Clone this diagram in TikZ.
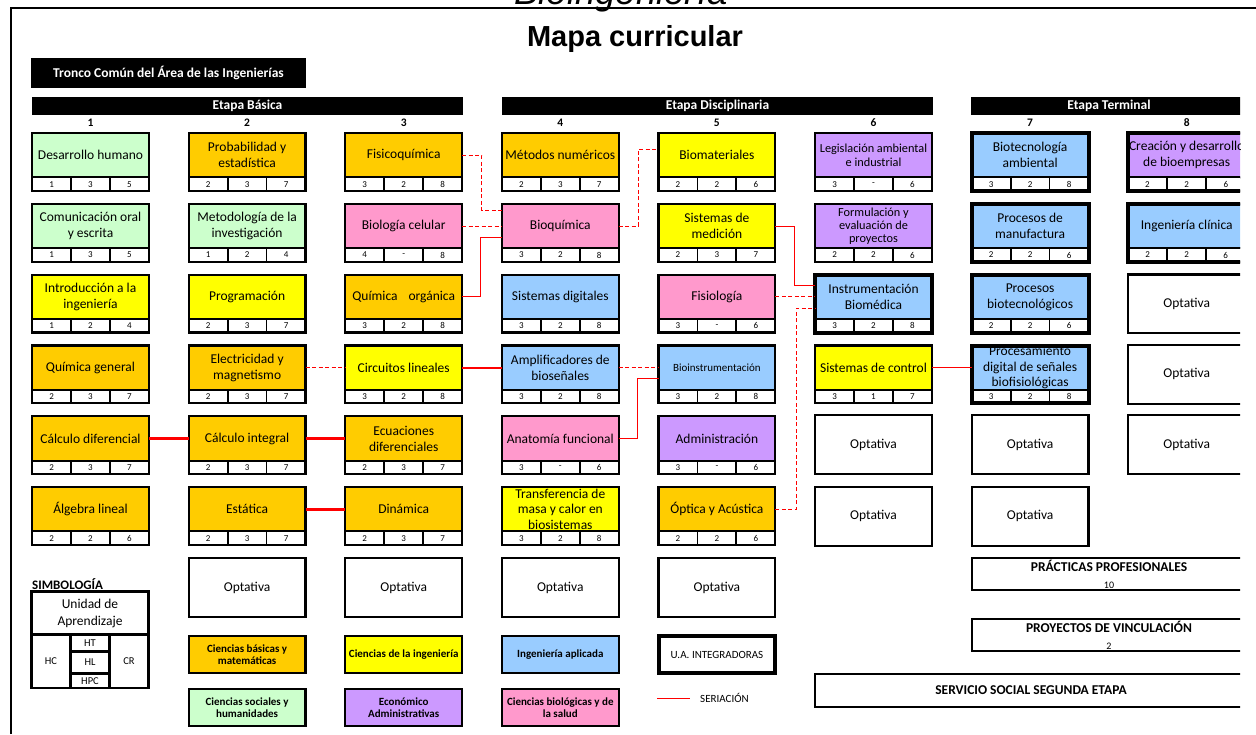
\documentclass[tikz,border=0pt]{standalone}
\usepackage{fontspec}
\setmainfont{Carlito}
\newfontfamily\arialfont{Liberation Sans}

\definecolor{verde}{HTML}{CCFFCC}
\definecolor{naranja}{HTML}{FFCC00}
\definecolor{amarillo}{HTML}{FFFF00}
\definecolor{rosa}{HTML}{FF99CC}
\definecolor{azul}{HTML}{99CCFF}
\definecolor{morado}{HTML}{CC99FF}

\tikzset{
  ua/.style={draw, line width=2.2pt, outer sep=0pt, minimum width=116.8pt,
    minimum height=44.4pt, inner xsep=1pt, inner ysep=0pt, align=center,
    font=\fontsize{13.5}{16}\selectfont},
  hr/.style={draw, fill=white, line width=1.8pt, outer sep=0pt, inner sep=0pt,
    minimum width=38.93pt, minimum height=13.4pt, font=\fontsize{9}{10}\selectfont},
  texto/.style={},
  marco/.style={line width=2.2pt},
  integ/.style={marco/.style={line width=4pt}},
  fuente/.style 2 args={texto/.style={font=\fontsize{#1}{#2}\selectfont}},
  opt/.style={draw, line width=2.2pt, outer sep=0pt, minimum width=116.8pt,
    minimum height=58.8pt, font=\fontsize{13.5}{16}\selectfont},
  barra/.style={fill=black, text=white, inner sep=0pt, minimum height=18pt,
    font=\bfseries\fontsize{13.5}{16}\selectfont},
  semestre/.style={inner sep=0pt, font=\bfseries\fontsize{11.5}{13}\selectfont},
  leyenda/.style={draw, line width=2.2pt, outer sep=0pt, minimum width=116.8pt,
    minimum height=36.8pt, inner xsep=1pt, inner ysep=0pt, align=center,
    font=\bfseries\fontsize{11}{12.5}\selectfont},
  cuadro/.style={draw, line width=2.2pt, outer sep=0pt, inner sep=0pt,
    align=center, font=\fontsize{13.5}{17}\selectfont},
  chico/.style={cuadro, font=\fontsize{10.5}{12}\selectfont},
  ser/.style={red, line width=1pt},
  serg/.style={red, line width=2.4pt},
  serd/.style={red, line width=1pt, dash pattern=on 4pt off 2.5pt}
}

% unidad de aprendizaje: [opciones] nombre, x, y, color, texto, HC, HL, CR
\newcommand{\materia}[9][]{%
  \begin{scope}[#1]
  \node[ua, texto, fill=#5] (#2) at (#3,#4) {#6};
  \node[hr, anchor=north west] (#2-1) at (#2.south west) {#7};
  \node[hr, anchor=north] (#2-2) at (#2.south) {#8};
  \node[hr, anchor=north east] (#2-3) at (#2.south east) {#9};
  \draw[marco] (#2.north west) rectangle (#2-3.south east);
  \end{scope}
}
\newcommand{\optativa}[3]{\node[opt] (#1) at (#2,#3) {Optativa};}

\begin{document}
\begin{tikzpicture}[x=1pt, y=-1pt]
  \useasboundingbox (0,0) rectangle (1256,734);
  \node[anchor=base, inner sep=0pt, font=\arialfont\itshape\fontsize{36.5}{40}\selectfont] (carrera) at (621,4) {Bioingeniería};
  \draw[line width=2pt] (11,734) -- (11,8.3) -- (1256,8.3);
  \node[anchor=base, inner sep=0pt, font=\arialfont\bfseries\fontsize{29}{32}\selectfont] (titulo) at (635,46.5) {Mapa curricular};

  \begin{scope}
  \clip (0,0) rectangle (1240,734);
  % encabezados
  \node[barra, minimum width=275pt, minimum height=30pt] (tronco) at (168.5,73) {Tronco Común del Área de las Ingenierías};
  \node[barra, minimum width=431pt] (basica) at (247.5,106) {Etapa Básica};
  \node[barra, minimum width=431pt] (disciplinaria) at (717.5,106) {Etapa Disciplinaria};
  \node[barra, minimum width=276pt] (terminal) at (1109,106) {Etapa Terminal};
  \node[semestre] (sem1) at (90.5,123) {1}; \node[semestre] (sem2) at (247.1,123) {2};
  \node[semestre] (sem3) at (403.7,123) {3}; \node[semestre] (sem4) at (560.3,123) {4};
  \node[semestre] (sem5) at (716.9,123) {5}; \node[semestre] (sem6) at (873.5,123) {6};
  \node[semestre] (sem7) at (1030.1,123) {7}; \node[semestre] (sem8) at (1186.7,123) {8};

  % semestre 1
  \materia{deshum}{90.5}{155.3}{verde}{Desarrollo humano}{1}{3}{5}
  \materia{comunic}{90.5}{226.1}{verde}{Comunicación oral\\y escrita}{1}{3}{5}
  \materia{intro}{90.5}{296.9}{amarillo}{Introducción a la\\ingeniería}{1}{2}{4}
  \materia{quimgen}{90.5}{367.7}{naranja}{Química general}{2}{3}{7}
  \materia{calcdif}{90.5}{438.5}{naranja}{Cálculo diferencial}{2}{3}{7}
  \materia{algebra}{90.5}{509.3}{naranja}{Álgebra lineal}{2}{2}{6}
  % semestre 2
  \materia{probab}{247.1}{155.3}{naranja}{Probabilidad y\\estadística}{2}{3}{7}
  \materia{metodo}{247.1}{226.1}{verde}{Metodología de la\\investigación}{1}{2}{4}
  \materia{program}{247.1}{296.9}{amarillo}{Programación}{2}{3}{7}
  \materia{electric}{247.1}{367.7}{naranja}{Electricidad y\\magnetismo}{2}{3}{7}
  \materia{calcint}{247.1}{438.5}{naranja}{Cálculo integral}{2}{3}{7}
  \materia{estatica}{247.1}{509.3}{naranja}{Estática}{2}{3}{7}
  \optativa{opt2}{247.1}{587.5}
  % semestre 3
  \materia{fisicoq}{403.7}{155.3}{naranja}{Fisicoquímica}{3}{2}{8}
  \materia{biocel}{403.7}{226.1}{rosa}{Biología celular}{4}{-}{8}
  \materia{quimorg}{403.7}{296.9}{naranja}{Química\hspace{11pt}orgánica}{3}{2}{8}
  \materia{circuit}{403.7}{367.7}{amarillo}{Circuitos lineales}{3}{2}{8}
  \materia{ecdif}{403.7}{438.5}{naranja}{Ecuaciones\\diferenciales}{2}{3}{7}
  \materia{dinamica}{403.7}{509.3}{naranja}{Dinámica}{2}{3}{7}
  \optativa{opt3}{403.7}{587.5}
  % semestre 4
  \materia{metnum}{560.3}{155.3}{naranja}{Métodos numéricos}{2}{3}{7}
  \materia{bioquim}{560.3}{226.1}{rosa}{Bioquímica}{3}{2}{8}
  \materia{sisdig}{560.3}{296.9}{azul}{Sistemas digitales}{3}{2}{8}
  \materia{amplif}{560.3}{367.7}{azul}{Amplificadores de\\bioseñales}{3}{2}{8}
  \materia{anatom}{560.3}{438.5}{rosa}{Anatomía funcional}{3}{-}{6}
  \materia[fuente={13.5}{15.3}]{transf}{560.3}{509.3}{amarillo}{Transferencia de\\masa y calor en\\biosistemas}{3}{2}{8}
  \optativa{opt4}{560.3}{587.5}
  % semestre 5
  \materia{biomat}{716.9}{155.3}{amarillo}{Biomateriales}{2}{2}{6}
  \materia{sismed}{716.9}{226.1}{amarillo}{Sistemas de\\medición}{2}{3}{7}
  \materia{fisiol}{716.9}{296.9}{rosa}{Fisiología}{3}{-}{6}
  \materia[fuente={11}{13}]{bioinst}{716.9}{367.7}{azul}{Bioinstrumentación}{3}{2}{8}
  \materia{admin}{716.9}{438.5}{morado}{Administración}{3}{-}{6}
  \materia{optica}{716.9}{509.3}{naranja}{Óptica y Acústica}{2}{2}{6}
  \optativa{opt5}{716.9}{587.5}
  % semestre 6
  \materia[fuente={12.3}{14}]{legis}{873.5}{155.3}{morado}{Legislación ambiental\\e industrial}{3}{-}{6}
  \materia[fuente={12.3}{13.2}]{formul}{873.5}{226.1}{morado}{Formulación y\\evaluación de\\proyectos}{2}{2}{6}
  \materia[integ]{instrum}{873.5}{296.9}{azul}{Instrumentación\\Biomédica}{3}{2}{8}
  \materia{siscon}{873.5}{367.7}{amarillo}{Sistemas de control}{3}{1}{7}
  \optativa{opt6a}{873.5}{444.6}
  \optativa{opt6b}{873.5}{516.3}
  % semestre 7
  \materia[integ]{biotec}{1030.1}{155.3}{azul}{Biotecnología\\ambiental}{3}{2}{8}
  \materia[integ]{procman}{1030.1}{226.1}{azul}{Procesos de\\manufactura}{2}{2}{6}
  \materia[integ]{procbio}{1030.1}{296.9}{azul}{Procesos\\biotecnológicos}{2}{2}{6}
  \materia[integ, fuente={13.5}{15.3}]{procdig}{1030.1}{367.7}{azul}{Procesamiento\\digital de señales\\biofisiológicas}{3}{2}{8}
  \optativa{opt7a}{1030.1}{444.6}
  \optativa{opt7b}{1030.1}{516.3}
  % semestre 8
  \materia[integ]{empresa}{1186.7}{155.3}{morado}{Creación y desarrollo\\de bioempresas}{2}{2}{6}
  \materia[integ]{clinica}{1186.7}{226.1}{azul}{Ingeniería clínica}{2}{2}{6}
  \optativa{opt8a}{1186.7}{303.8}
  \optativa{opt8b}{1186.7}{374.2}
  \optativa{opt8c}{1186.7}{444.6}

  % seriacion
  \draw[serd] (fisicoq.east) -- ++(19.5,0) |- (bioquim.west |- 0,210);
  \draw[serd] (biocel.east) -- (bioquim.west);
  \draw[ser] (quimorg.east) -- ++(18.5,0) |- (bioquim.west |- 0,237);
  \draw[serd] (bioquim.east) -- ++(19.5,0) |- (biomat.west |- 0,149);
  \draw[serd] (electric.east) -- (circuit.west);
  \draw[serg] (circuit.east) -- (amplif.west);
  \draw[serd] (amplif.east) -- (bioinst.west);
  \draw[ser] (anatom.east) -- ++(18.5,0) |- (bioinst.west |- 0,378);
  \draw[serg] (calcdif.east) -- (calcint.west);
  \draw[serg] (calcint.east) -- (ecdif.west);
  \draw[serg] (estatica.east) -- (dinamica.west);
  \draw[ser] (sismed.east) -- ++(18.7,0) |- (instrum.west |- 0,285);
  \draw[serd] (fisiol.east) -- (instrum.west);
  \draw[serd] (optica.east) -- ++(20.7,0) |- (instrum.west |- 0,308);
  \draw[ser] (siscon.east) -- (procdig.west);

  % simbologia
  \node[anchor=west, inner sep=0pt, font=\bfseries\fontsize{13}{15}\selectfont] (simbologia) at (32,584) {SIMBOLOGÍA};
  \node[cuadro, minimum width=117pt, minimum height=43pt] (unidad) at (90,613) {Unidad de\\Aprendizaje};
  \node[chico, anchor=north west, minimum width=39pt, minimum height=53.5pt] (hc) at (unidad.south west) {HC};
  \node[chico, anchor=north, minimum width=39pt, minimum height=17pt] (ht) at (unidad.south) {HT};
  \node[chico, anchor=north, minimum width=39pt, minimum height=22pt] (hl) at (ht.south) {HL};
  \node[chico, anchor=north, minimum width=39pt, minimum height=14.5pt] (hpc) at (hl.south) {HPC};
  \node[chico, anchor=north east, minimum width=39pt, minimum height=53.5pt] (cr) at (unidad.south east) {CR};

  \node[leyenda, fill=naranja] (cbasicas) at (247.1,654.5) {Ciencias básicas y\\matemáticas};
  \node[leyenda, fill=verde] (csociales) at (247.1,707.5) {Ciencias sociales y\\humanidades};
  \node[leyenda, fill=amarillo] (cingen) at (403.7,654.5) {Ciencias de la ingeniería};
  \node[leyenda, fill=morado] (ecoadmin) at (403.7,707.5) {Económico\\Administrativas};
  \node[leyenda, fill=azul] (ingapl) at (560.3,654.5) {Ingeniería aplicada};
  \node[leyenda, fill=rosa] (cbiol) at (560.3,707.5) {Ciencias biológicas y de\\la salud};
  \node[leyenda, line width=4pt, font=\fontsize{11}{13}\selectfont] (integradoras) at (716.9,654.5) {U.A. INTEGRADORAS};
  \coordinate (ser1) at (657,698); \coordinate (ser2) at (690,698);
  \draw[ser] (ser1) -- (ser2);
  \node[anchor=west, inner sep=0pt, font=\fontsize{11}{13}\selectfont] (seriacion) at (700,698) {SERIACIÓN};

  % practicas, vinculacion, servicio social
  \node[cuadro, minimum width=274pt, minimum height=32pt] (practicas) at (1109,574) {\textbf{PRÁCTICAS PROFESIONALES}\\{\fontsize{10}{12}\selectfont 10}};
  \node[cuadro, minimum width=274pt, minimum height=32pt] (vinculacion) at (1109,635) {\textbf{PROYECTOS DE VINCULACIÓN}\\{\fontsize{10}{12}\selectfont 2}};
  \node[cuadro, minimum width=432pt, minimum height=33pt, font=\bfseries\fontsize{13.5}{16}\selectfont] (servicio) at (1031,690.5) {SERVICIO SOCIAL SEGUNDA ETAPA};
  \end{scope}
\end{tikzpicture}
\end{document}
